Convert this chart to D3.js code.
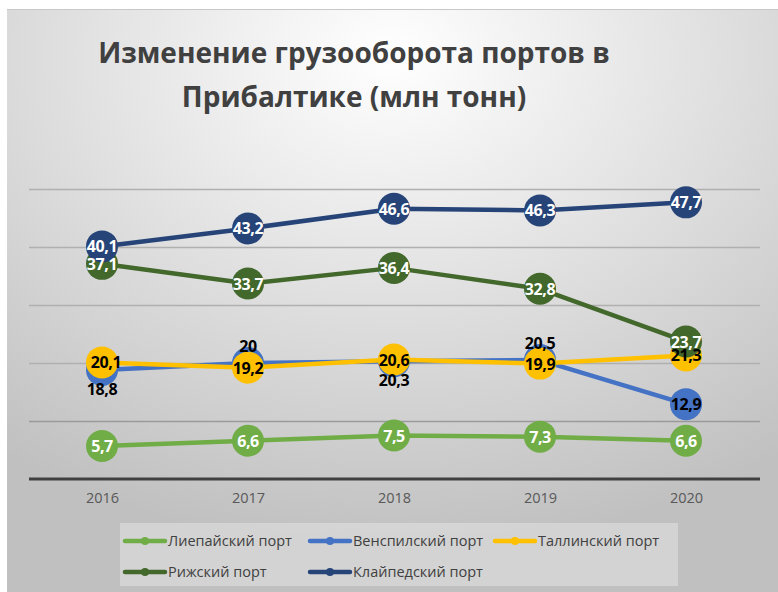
<!DOCTYPE html>
<html lang="ru">
<head>
<meta charset="utf-8">
<script src="https://d3js.org/d3.v7.min.js"></script>
<style>
  * { margin:0; padding:0 }
  body { width:778px; height:592px; background:#fff; overflow:hidden }
  svg { display:block; font-family:"Open Sans", "Noto Sans", sans-serif }
</style>
</head>
<body>
<script>
// данные
const years = ['2016', '2017', '2018', '2019', '2020'];
const seriesNames = ['Лиепайский порт', 'Венспилский порт', 'Таллинский порт', 'Рижский порт', 'Клайпедский порт'];
const liepaja = [5.7, 6.6, 7.5, 7.3, 6.6];
const ventspils = [18.8, 20, 20.3, 20.5, 12.9];
const tallinn = [20.1, 19.2, 20.6, 19.9, 21.3];
const riga = [37.1, 33.7, 36.4, 32.8, 23.7];
const klaipeda = [40.1, 43.2, 46.6, 46.3, 47.7];
const yTicks = [0, 10, 20, 30, 40, 50];

const colors = ['#70AD47', '#4472C4', '#FFC000', '#43682B', '#264478'];
const labelColors = ['#fff', '#000', '#000', '#fff', '#fff'];
// где стоит подпись: 0 - в центре, -1 - сверху, 1 - снизу
const ventspilsPos = [1, -1, 1, -1, 0];

const series = [liepaja, ventspils, tallinn, riga, klaipeda].map((vals, i) => ({
  name: seriesNames[i], vals, color: colors[i], lc: labelColors[i], idx: i
}));

const W = 778, H = 592;
const svg = d3.select('body').append('svg').attr('width', W).attr('height', H);

const defs = svg.append('defs');
const grad = defs.append('radialGradient').attr('id', 'bg')
  .attr('cx', '50%').attr('cy', '8%').attr('r', '85%')
  .attr('fx', '50%').attr('fy', '8%');
grad.append('stop').attr('offset', '0%').attr('stop-color', '#ffffff');
grad.append('stop').attr('offset', '100%').attr('stop-color', '#c0c0c0');

svg.append('rect').attr('x', 7).attr('y', 9).attr('width', W - 7).attr('height', H - 9)
  .attr('fill', 'url(#bg)');
svg.append('line').attr('x1', 7).attr('x2', W).attr('y1', 9.5).attr('y2', 9.5)
  .attr('stroke', '#c8c8c8').attr('stroke-width', 1);

// заголовок
const title = svg.append('text').attr('text-anchor', 'middle')
  .attr('fill', '#404040').attr('font-weight', 700).attr('font-size', 28);
title.append('tspan').attr('x', 354).attr('y', 63).text('Изменение грузооборота портов в');
title.append('tspan').attr('x', 354).attr('y', 107).text('Прибалтике (млн тонн)');

const x = d3.scalePoint().domain(years).range([29, 759]).padding(0.5);
const y = d3.scaleLinear().domain([0, 50]).range([479, 189]);

// сетка
svg.append('g').selectAll('line').data(yTicks.slice(1)).join('line')
  .attr('x1', 29).attr('x2', 760)
  .attr('y1', d => Math.round(y(d)) + 0.5).attr('y2', d => Math.round(y(d)) + 0.5)
  .attr('stroke', d => d === 10 ? '#9a9a9a' : '#b0b0b0').attr('stroke-width', 1.3);

const xAxis = svg.append('g').attr('transform', `translate(0,${y(0)})`)
  .call(d3.axisBottom(x).tickSize(0).tickPadding(14));
xAxis.select('.domain').attr('d', 'M29,0H760').attr('stroke', '#404040').attr('stroke-width', 3);
xAxis.selectAll('text').attr('font-family', '"Open Sans", sans-serif')
  .attr('font-size', 14.5).attr('fill', '#595959');

const line = d3.line().x((d, i) => x(years[i])).y(d => y(d));

const g = svg.append('g');
series.forEach(s => {
  g.append('path').datum(s.vals).attr('d', line)
    .attr('fill', 'none').attr('stroke', s.color).attr('stroke-width', 4.5)
    .attr('stroke-linejoin', 'round').attr('stroke-linecap', 'round');
  g.selectAll(null).data(s.vals).join('circle')
    .attr('cx', (d, i) => x(years[i])).attr('cy', d => y(d)).attr('r', 16)
    .attr('fill', s.color);
});

// подписи значений
const fmt = v => String(v).replace('.', ',');
series.forEach(s => {
  svg.append('g').selectAll('text').data(s.vals).join('text')
    .attr('x', (d, i) => x(years[i]) + (s.idx === 2 && i === 0 ? 4 : 0))
    .attr('y', (d, i) => {
      const p = s.idx === 1 ? ventspilsPos[i] : 0;
      return y(d) + 6 + p * (p > 0 ? 19 : 17);
    })
    .attr('text-anchor', 'middle')
    .attr('font-size', 16).attr('font-weight', 700).attr('letter-spacing', -0.4)
    .attr('fill', s.lc)
    .text(d => fmt(d));
});

// легенда
const leg = svg.append('g');
leg.append('rect').attr('x', 120).attr('y', 523).attr('width', 558).attr('height', 63)
  .attr('fill', '#ffffff').attr('fill-opacity', 0.3);
const legPos = [[125, 541], [310, 541], [495, 541], [125, 572], [310, 572]];
series.forEach((s, i) => {
  const [lx, ly] = legPos[i];
  const it = leg.append('g').attr('transform', `translate(${lx},${ly})`);
  it.append('line').attr('x1', 0).attr('x2', 40).attr('stroke', s.color)
    .attr('stroke-width', 4.5).attr('stroke-linecap', 'round');
  it.append('circle').attr('cx', 20).attr('r', 4).attr('fill', s.color);
  it.append('text').attr('x', 43).attr('y', 5).attr('font-size', 14.5)
    .attr('fill', '#404040').text(s.name);
});
</script>
</body>
</html>
